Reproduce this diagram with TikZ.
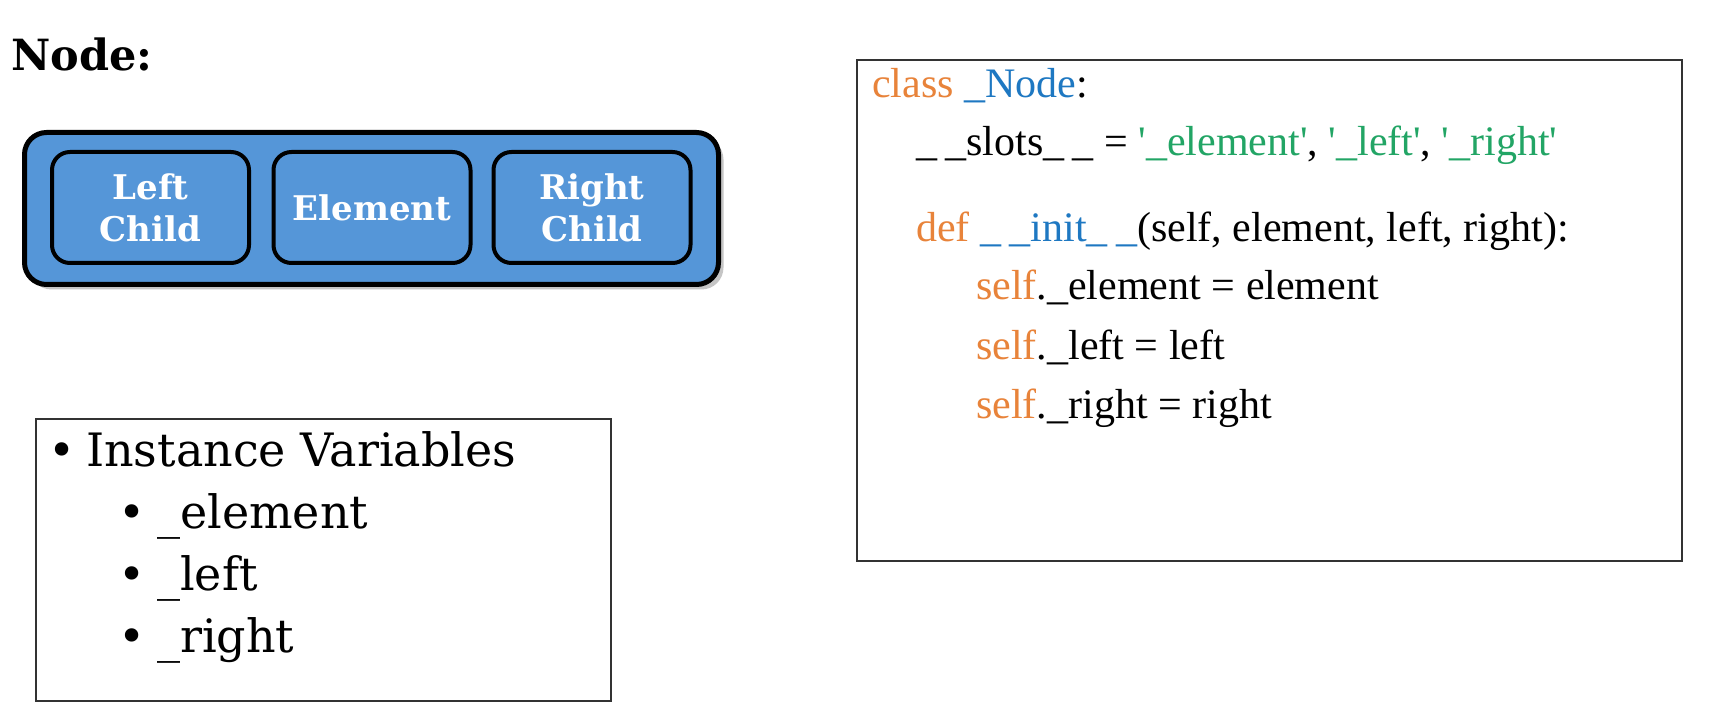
\documentclass[tikz,border=0pt]{standalone}
\usepackage{fontspec}
\newfontfamily\codefont{Liberation Serif}
\newfontfamily\boldfont{DejaVu Serif}
\newfontfamily\listfont{DejaVu Serif}
\usetikzlibrary{shadows}
\definecolor{nodeblue}{HTML}{5596D8}
\definecolor{kworange}{HTML}{E8833A}
\definecolor{kwblue}{HTML}{1E78C2}
\definecolor{strgreen}{HTML}{22A565}
\definecolor{framegray}{HTML}{333333}
\newcommand{\dus}{\_\kern0.2em\_}
\begin{document}
\begin{tikzpicture}[x=1pt,y=-1pt,
  outerbox/.style={draw=black, line width=5pt, fill=nodeblue, rounded corners=22pt,
    minimum width=694pt, minimum height=152pt, inner sep=0pt,
    drop shadow={shadow xshift=5pt, shadow yshift=-5pt, opacity=0.45}},
  fieldbox/.style={draw=black, line width=4pt, fill=nodeblue, rounded corners=18pt,
    minimum width=197pt, minimum height=111pt, inner sep=0pt, align=center,
    text=white, font=\boldfont\fontsize{34}{42}\selectfont\bfseries},
  framebox/.style={draw=framegray, line width=1.5pt, inner sep=0pt},
  codeline/.style={anchor=base west, inner sep=0pt, font=\codefont\fontsize{42}{50}\selectfont},
  bulletline/.style={anchor=base west, inner sep=0pt, font=\listfont\fontsize{46}{60}\selectfont},
  title/.style={anchor=base west, inner sep=0pt, font=\boldfont\fontsize{43}{54}\selectfont\bfseries}]
\useasboundingbox (0,0) rectangle (1725,711);
\fill[white] (0,0) rectangle (1725,711);

% title
\node[title] (ttl) at (11,71) {Node:};

% node diagram
\node[outerbox] (outer) at (371.5,208.5) {};
\node[fieldbox] (lc) at (150.5,207.5) {Left\\Child};
\node[fieldbox] (el) at (372,207.5) {Element};
\node[fieldbox] (rc) at (592,207.5) {Right\\Child};

% code box
\node[framebox, minimum width=825pt, minimum height=501pt] (codebox) at (1269.5,310.5) {};
\node[codeline] (c1) at (872,98) {\textcolor{kworange}{class} \textcolor{kwblue}{\_Node}:};
\node[codeline] (c2) at (916,156) {\dus slots\dus{} = \textcolor{strgreen}{'\_element'}, \textcolor{strgreen}{'\_left'}, \textcolor{strgreen}{'\_right'}};
\node[codeline] (c3) at (916,242) {\textcolor{kworange}{def} \textcolor{kwblue}{\dus init\dus}(self, element, left, right):};
\node[codeline] (c4) at (976,300) {\textcolor{kworange}{self}.\_element = element};
\node[codeline] (c5) at (976,360) {\textcolor{kworange}{self}.\_left = left};
\node[codeline] (c6) at (976,418) {\textcolor{kworange}{self}.\_right = right};

% bullet box
\node[framebox, minimum width=575pt, minimum height=282pt] (bulbox) at (323.5,560) {};
\node[bulletline] (b0) at (48,466) {\textbullet};
\node[bulletline] (b1) at (86,466) {Instance Variables};
\node[bulletline] (s1) at (118,528) {\textbullet};
\node[bulletline] (t1) at (157,528) {\_element};
\node[bulletline] (s2) at (118,590) {\textbullet};
\node[bulletline] (t2) at (157,590) {\_left};
\node[bulletline] (s3) at (118,652) {\textbullet};
\node[bulletline] (t3) at (157,652) {\_right};
\end{tikzpicture}
\end{document}
